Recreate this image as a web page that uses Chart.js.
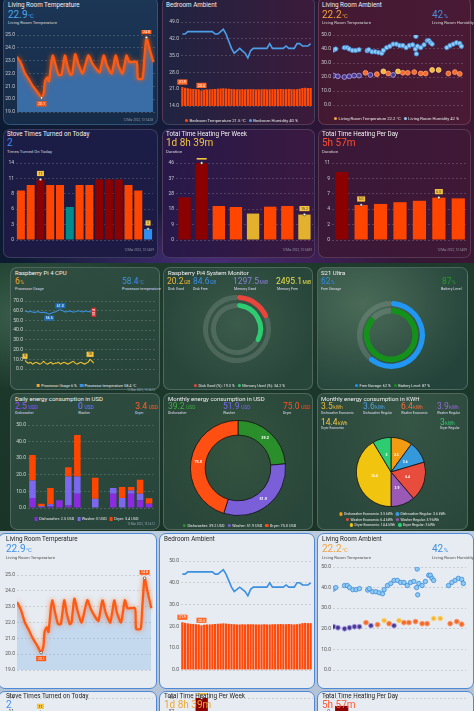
<!DOCTYPE html>
<html><head><meta charset="utf-8">
<script src="https://cdn.jsdelivr.net/npm/chart.js@4.4.1/dist/chart.umd.min.js"></script>
<style>
html,body{margin:0;padding:0}
body{width:474px;height:711px;overflow:hidden;position:relative;font-family:Roboto,"Noto Sans",sans-serif;background:#101828}
.sec,.card,.t,.lg,canvas{position:absolute}
.card{border-radius:7px;box-sizing:border-box}
.t{white-space:nowrap;line-height:1.2}
.t small{font-size:58%;margin-left:0.4px}
.lg{white-space:nowrap;transform:translateX(-50%);line-height:1.2}
.lg i{display:inline-block;width:3.4px;height:3.4px;border-radius:50%;margin:0 1.2px 0 3px;vertical-align:-0.2px}
.lg i.sq{border-radius:0.4px}
</style></head><body>
<script>
// ================= DATA =================
// Living Room Temperature (hour of day, °C)
const lrHours = [0,0.7,1.4,2.0,2.8,3.5,4.3,4.7,4.9,5.3,5.6,6.0,6.3,6.8,7.3,7.8,8.4,8.9,9.4,9.7,10.2,10.8,11.5,12.5,13.2,14.0,14.5,15.2,15.8,16.6,17.3,17.8,18.5,19.2,19.7,21.0,21.2,22.0,22.3,22.7,23.2,23.9];
const lrTemp  = [23.3,22.8,22.0,21.6,21.0,20.6,20.1,20.5,21.4,21.7,21.4,22.8,23.4,22.6,21.9,21.9,23.4,22.5,21.9,22.0,23.5,22.7,22.0,23.4,22.8,22.3,22.1,23.4,22.6,22.0,23.4,22.6,22.0,23.4,22.9,22.9,21.6,21.6,23.0,24.8,24.0,22.9];
// Bedroom Ambient, 30-minute slots from 00:00
const bedTemp = [21.9,21.6,21.4,21.2,21.1,21.0,20.9,20.5,20.8,20.9,20.9,21.0,21.1,21.2,21.3,21.4,21.3,21.2,21.1,21.0,20.9,20.9,21.0,20.9,21.0,21.0,21.0,20.9,20.9,20.9,21.0,20.9,20.9,21.0,21.0,21.0,21.1,21.0,21.0,21.1,21.0,20.9,21.0,21.2,21.5,21.6,21.5,21.5];
const bedHum  = [44,44,45,45,45,45,45,45,45,45,45,45,44,44,45,46,44,41,38,36,37,38,37,36,34,37,38,38,38,38,38,38,40,38,38,38,38,38,39,38,38,38,40,40,39,39,39,40];
// Living Room Ambient (scatter)
const lraHumHours = [0.1,0.5,2.1,2.6,3.0,3.6,4.2,4.8,6.3,6.6,7.2,7.8,8.4,9.0,9.3,9.9,10.5,11.1,11.7,12.3,12.9,13.5,14.1,14.7,15.2,15.3,15.4,15.6,16.2,16.8,17.4,17.7,18.0,18.3,21.0,21.6,22.2,22.8,23.4,23.7];
const lraHum      = [39.3,40,41,41,40,39,39,39.5,38.8,39.5,38,38,37.5,37,39,41,42,43.5,43.5,42.5,42.5,41,42.5,43,40,49,36.5,42,41,43,46,46,44.5,43.5,41,42.5,43.5,44.5,44,42];
const lraTempHours = [0.1,0.9,2.1,3.0,3.9,4.8,6.0,6.9,8.1,9.3,10.2,11.1,12.0,12.9,13.8,15.0,16.2,17.1,18.3,19.5,21.3,22.5,23.4];
const lraTemp      = [21,20.5,20,20.5,21,21,23,21.5,22,24,22.5,21.5,24,23,23,23.5,22.5,22.5,25,25,22.5,23.5,22.2];
// Stove times turned on per day
const stoveDays   = ['27 Feb','28 Feb','01 Mar','02 Mar','03 Mar','04 Mar','05 Mar','06 Mar','07 Mar','08 Mar','09 Mar','10 Mar','11 Mar','12 Mar'];
const stoveCounts = [9,10,11,10,10,6,10,10,11,11,11,10,9,2];
// Total time heating per week (hours)
const weekTicks = ['', '24 Jan', "Feb '22", '', '14 Feb', '21 Feb', '', ''];
const weekHours = [25.5,46,20.3,19.7,15.8,19.9,20.3,15.2];
// Total time heating per day (hours)
const dayTicks = ['', '05 Mar','06 Mar','07 Mar','08 Mar','09 Mar','10 Mar'];
const dayHours = [9.7,5.0,5.15,5.4,5.6,6.05,5.95];
// Raspberry Pi CPU, 20-minute samples from 00:00
const cpuTemp  = [59.5,59.2,58.8,59.3,58.6,58.2,58.7,59.1,58.4,58.0,58.5,57.9,57.4,56.5,57.3,58.1,58.6,59.4,60.5,61.0,60.2,59.3,58.8,59.2,59.8,59.1,58.6,59.0,59.5,59.9,59.2,58.8,59.3,59.7,59.1,58.7,59.8,58.4];
const cpuUsage = [9,7,6,7,5,6,7,6,5,6,8,6,5,6,7,5,6,6,7,5,6,7,6,5,6,7,8,6,5,6,7,6,5,6,7,10,8,6];
// System monitor / phone
const diskUsedPct = 19.3, memUsedPct = 34.2;
const freeStoragePct = 62, batteryPct = 87;
// Daily energy consumption in USD
const energyDays = stoveDays;
const dishUSD = [6,0.6,1,4.6,1.6,8.6,0,0,0,8.6,0,8.6,4.6,2.5];
const washUSD = [10.6,0.4,1.2,0,17.4,10.4,0,5.6,0,3.4,6,2,4,0];
const dryUSD  = [15.4,1.6,9.8,0,5.6,25,0,12.6,0,0,6.6,2,8.4,3.4];
// Monthly energy
const usdLabels = ['Dishwasher','Washer','Dryer'];
const monthlyUSD = [39.2,51.9,75.0];
const kwhLabels = ['Dishwasher Economic','Dishwasher Regular','Washer Economic','Washer Regular','Dryer Economic','Dryer Regular'];
const kwhValues = [3.5,3.6,6.4,3.9,14.4,3];

// ================= HELPERS =================
const halfHourLabels = []; for (let i=0;i<48;i++) halfHourLabels.push(String(Math.floor(i/2)).padStart(2,'0')+':'+(i%2?'30':'00'));
const twentyMinLabels = []; for (let i=0;i<72;i++) twentyMinLabels.push(String(Math.floor(i/3)).padStart(2,'0')+':'+['00','20','40'][i%3]);
const hh = v => String(v).padStart(2,'0')+':00';

const marksPlugin = {
  id:'marks',
  afterDatasetsDraw(chart){
    const ctx = chart.ctx;
    chart.data.datasets.forEach((ds,di)=>{
      (ds.marks||[]).forEach(it=>{
        const vals = ds.data.map(d=> d!==null && typeof d==='object' ? d.y : d);
        const lo = it.from||0; let idx=-1;
        vals.forEach((v,i)=>{ if(i<lo||v==null) return; if(idx<0){idx=i;return;}
          if(it.kind==='max' && v>vals[idx]) idx=i;
          if(it.kind==='min' && v<vals[idx]) idx=i; });
        if(it.kind==='last') idx=vals.length-1;
        if(it.kind==='first') idx=0;
        const el = chart.getDatasetMeta(di).data[idx]; if(!el) return;
        const txt = it.fmt ? it.fmt(vals[idx]) : String(vals[idx]);
        const fs = it.fs||3.6;
        ctx.save();
        ctx.font = fs+'px Roboto';
        const w = ctx.measureText(txt).width+3, h = fs+1.6;
        const x = el.x+(it.dx||0), y = el.y-(it.dy===undefined?6:it.dy);
        ctx.fillStyle = it.bg; ctx.textAlign='center'; ctx.textBaseline='middle';
        if(it.rot){ ctx.fillRect(x-h/2,y-w/2,h,w); ctx.translate(x,y); ctx.rotate(-Math.PI/2); ctx.fillStyle=it.fg; ctx.fillText(txt,0,0.3); }
        else { ctx.fillRect(x-w/2,y-h/2,w,h); ctx.fillStyle=it.fg; ctx.fillText(txt,x,y+0.3); }
        ctx.restore();
        if(it.dot){ ctx.save(); ctx.beginPath(); ctx.arc(el.x,el.y,1.3,0,Math.PI*2); ctx.fillStyle='#fff'; ctx.fill(); ctx.lineWidth=0.6; ctx.strokeStyle='#333'; ctx.stroke(); ctx.restore(); }
      });
    });
  }
};
const glowPlugin = {
  id:'glow',
  beforeDatasetDraw(chart,args){ const ds=chart.data.datasets[args.index]; if(ds.glow){ chart.ctx.save(); chart.ctx.shadowColor=ds.glow; chart.ctx.shadowBlur=ds.glowBlur||4; } },
  afterDatasetDraw(chart,args){ const ds=chart.data.datasets[args.index]; if(ds.glow) chart.ctx.restore(); }
};
const arcLabels = {
  id:'arcLabels',
  afterDatasetsDraw(chart){
    chart.data.datasets.forEach((ds,di)=>{
      if(!ds.arcLabels) return;
      const ctx=chart.ctx, meta=chart.getDatasetMeta(di);
      ctx.save(); ctx.font='bold '+ds.arcLabels.size+'px Roboto'; ctx.fillStyle=ds.arcLabels.color; ctx.textAlign='center'; ctx.textBaseline='middle';
      meta.data.forEach((a,i)=>{ const p=a.tooltipPosition(); ctx.fillText(ds.arcLabels.fmt(ds.data[i]),p.x,p.y); });
      ctx.restore();
    });
  }
};
Chart.register(marksPlugin, glowPlugin, arcLabels);
Chart.defaults.font.family = 'Roboto, "Noto Sans", sans-serif';
Chart.defaults.font.size = 5;
Chart.defaults.animation = false;
Chart.defaults.responsive = false;
Chart.defaults.maintainAspectRatio = false;
Chart.defaults.plugins.legend.display = false;
Chart.defaults.plugins.tooltip.enabled = false;

function el(cls, css, html){ const d=document.createElement('div'); d.className=cls; d.style.cssText=css; if(html!==undefined) d.innerHTML=html; document.body.appendChild(d); return d; }
function S(y,h,bg){ return el('sec','left:0;top:'+y+'px;width:474px;height:'+h+'px;background:'+bg); }
function C(x,y,w,h,bg,bd){ return el('card','left:'+x+'px;top:'+y+'px;width:'+w+'px;height:'+h+'px;background:'+bg+';border:'+bd); }
function T(x,yc,html,size,color,extra){ return el('t','left:'+x+'px;top:'+(yc-size*0.6)+'px;font-size:'+size+'px;color:'+color+';'+(extra||''),html); }
function LG(cx,yc,items,size,color){ return el('lg','left:'+cx+'px;top:'+(yc-size*0.6)+'px;font-size:'+size+'px;color:'+color, items.map(it=>'<i class="'+(it.sq?'sq':'')+'" style="background:'+it.c+'"></i>'+it.t).join('')); }
function mkCanvas(L,Tp,W,H){ const c=document.createElement('canvas'); c.width=W; c.height=H; c.style.left=L+'px'; c.style.top=Tp+'px'; c.style.width=W+'px'; c.style.height=H+'px'; document.body.appendChild(c); return c; }
function axesChart(area,cfg,o){
  o=o||{}; const yw=o.yw||13, xh=o.xh||9, pt=4, pr=3;
  const L=Math.round(area[0]-yw-1), Tp=Math.round(area[1]-pt);
  const W=Math.round(area[2]-L+pr), H=Math.round(area[3]-Tp+xh);
  const c=mkCanvas(L,Tp,W,H);
  cfg.options.devicePixelRatio=1;
  cfg.options.layout={padding:{left:1,top:pt,right:pr,bottom:0}};
  cfg.options.scales.x.afterFit=s=>{s.height=xh;};
  cfg.options.scales.y.afterFit=s=>{s.width=yw;};
  return new Chart(c,cfg);
}
function ringChart(cx,cy,r,cfg){ const c=mkCanvas(cx-r,cy-r,2*r,2*r); cfg.options=cfg.options||{}; cfg.options.devicePixelRatio=1; cfg.options.layout={padding:0}; return new Chart(c,cfg); }
function xLin(th,max){ return {type:'linear',min:0,max:max,grid:{display:false},border:{display:false},ticks:{stepSize:3,color:th.tick,font:{size:5},padding:2,maxRotation:0,callback:v=> v<24 && v%3===0 ? hh(v):''}}; }
function xCat(th,cb,offset){ return {offset:offset!==false,grid:{display:false},border:{display:false},ticks:{color:th.tick,font:{size:5},padding:2,autoSkip:false,maxRotation:0,callback:cb}}; }
function yLin(th,min,max,step,cb){ return {min:min,max:max,grid:{color:th.grid,drawTicks:false},border:{display:false,dash:[2,2]},ticks:{stepSize:step,color:th.tick,font:{size:5},padding:2,callback:cb}}; }
const f1 = v=>Number(v).toFixed(1);

const TH = {
  dark:{tick:'#c9c9d2',grid:'rgba(255,255,255,0.17)',title:'#f2f2f2',sub:'#d6d6d6',line:'#ff5a14',area:'#3a6ca6',glow:'rgba(255,90,0,1)',hum:'#4b9fe8',bar:'#ff4a0a',lg:'#e6e6e6',ts:'#9a9aa8'},
  light:{tick:'#555',grid:'rgba(0,0,0,0.13)',title:'#222',sub:'#555',line:'#ff5a14',area:'rgba(120,170,230,0.30)',glow:'rgba(255,90,0,0.7)',hum:'#3d8fe0',bar:'#ff4a0a',lg:'#333',ts:'#888'}
};

// ---------- chart builders ----------
function tempChart(th,area){
  return axesChart(area,{type:'line',data:{datasets:[{data:lrHours.map((h,i)=>({x:h,y:lrTemp[i]})),borderColor:th.line,borderWidth:2.3,fill:'start',backgroundColor:th.area,pointRadius:0,tension:0.2,glow:th.glow,glowBlur:5,
    marks:[{kind:'min',bg:'#ff5a14',fg:'#fff',dot:true,fmt:f1,dy:-6},{kind:'max',bg:'#ff5a14',fg:'#fff',dot:true,fmt:f1}]}]},
    options:{scales:{x:xLin(th,24.2),y:yLin(th,19,25,1,f1)}}});
}
function bedChart(th,area,yr){
  return axesChart(area,{type:'bar',data:{labels:halfHourLabels,datasets:[
    {type:'line',data:bedHum,borderColor:th.hum,borderWidth:1.6,pointRadius:0,tension:0,order:0},
    {type:'bar',data:bedTemp,backgroundColor:th.bar,borderColor:'#ff7a3a',borderWidth:0,barPercentage:0.82,categoryPercentage:1,order:1,
     marks:[{kind:'max',bg:'#ff6a2a',fg:'#fff',fmt:f1,dy:5},{kind:'min',bg:'#ff6a2a',fg:'#fff',fmt:f1,dy:5}]}]},
    options:{scales:{x:xCat(th,(v,i)=> i%6===0 ? halfHourLabels[i] : ''),y:yLin(th,yr[0],yr[1],yr[2],f1)}}});
}
function tempColor(v){ return v<21.8 ? '#4a3a8e' : v>=24 ? '#f4b63c' : '#f26a2e'; }
function tempBorder(v){ return v<21.8 ? '#a89be8' : v>=24 ? '#ffd880' : '#ff9a6a'; }
function lraChart(th,area){
  return axesChart(area,{type:'scatter',data:{datasets:[
    {data:lraHumHours.map((h,i)=>({x:h,y:lraHum[i]})),backgroundColor:'#8ecbf5',borderColor:'#3f8ad8',borderWidth:0.8,pointRadius:2.2},
    {data:lraTempHours.map((h,i)=>({x:h,y:lraTemp[i]})),backgroundColor:lraTemp.map(tempColor),borderColor:lraTemp.map(tempBorder),borderWidth:0.9,pointRadius:2.4}]},
    options:{scales:{x:xLin(th,24.2),y:yLin(th,0,50,10,f1)}}});
}
function stoveChart(th,area){
  const mx=Math.max(...stoveCounts), mn=Math.min(...stoveCounts.slice(0,-1));
  const cols=stoveCounts.map((v,i)=> i===stoveCounts.length-1 ? '#2f8ff0' : v===mx ? '#8b0000' : v===mn ? '#008b8b' : '#ff4500');
  return axesChart(area,{type:'bar',data:{labels:stoveDays,datasets:[{data:stoveCounts,backgroundColor:cols,barPercentage:0.82,categoryPercentage:1,
    marks:[{kind:'max',bg:'#f5c542',fg:'#333',dot:true,dy:6},{kind:'last',bg:'#f5c542',fg:'#333',dot:true,dy:6}]}]},
    options:{scales:{x:xCat(th,(v,i)=> i%2===1 ? stoveDays[i] : ''),y:yLin(th,0,14,2.8,v=>Math.round(v))}}});
}
function weekChart(th,area){
  const cols=weekHours.map(v=> v>=25 ? '#8b0000' : v<17 ? '#e2b22e' : '#ff4500');
  return axesChart(area,{type:'bar',data:{labels:weekTicks,datasets:[{data:weekHours,backgroundColor:cols,barPercentage:0.72,categoryPercentage:1,
    marks:[{kind:'max',bg:'#f5c542',fg:'#333',dot:true,fmt:f1,dy:6},{kind:'last',bg:'#f5c542',fg:'#333',dot:true,fmt:f1,dy:6}]}]},
    options:{scales:{x:xCat(th,(v,i)=>weekTicks[i]),y:yLin(th,0,46,9.2,v=>Math.round(v))}}});
}
function dayChart(th,area){
  const cols=dayHours.map(v=> v>8 ? '#8b0000' : '#ff4500');
  return axesChart(area,{type:'bar',data:{labels:dayTicks,datasets:[{data:dayHours,backgroundColor:cols,barPercentage:0.68,categoryPercentage:1,
    marks:[{kind:'min',bg:'#f5c542',fg:'#333',dot:true,fmt:f1,dy:6},{kind:'max',from:1,bg:'#f5c542',fg:'#333',dot:true,fmt:f1,dy:6}]}]},
    options:{scales:{x:xCat(th,(v,i)=>dayTicks[i]),y:yLin(th,0,11,2.2,v=>Math.round(v))}}});
}

// ================= LAYOUT =================
S(0,263,'radial-gradient(ellipse 60% 30% at 45% 100%, rgba(110,60,170,0.55), rgba(0,0,0,0) 70%), linear-gradient(90deg,#0c1b31 0%,#171a3a 38%,#2c1637 68%,#3b1733 100%)');
S(263,268,'radial-gradient(ellipse 40% 40% at 8% 20%, rgba(90,140,110,0.5), rgba(0,0,0,0) 70%), linear-gradient(180deg,#1d3a2d,#1a3428)');
S(531,180,'linear-gradient(180deg,#bccbdb,#b3c3d5)');

const DB='1px solid rgba(255,255,255,0.14)';
C(3,-3,155,128,'linear-gradient(180deg,#1c3656,#162b47)','1px solid rgba(120,170,230,0.25)');
C(162,-3,153,128,'linear-gradient(90deg,#1f2441,#3c1a3b)',DB);
C(318,-3,153,128,'linear-gradient(90deg,#431932,#4a1a35)',DB);
C(3,129,155,129,'linear-gradient(180deg,#1b1d46,#1d1a44)',DB);
C(162,129,153,129,'linear-gradient(90deg,#27194a,#3a1940)',DB);
C(318,129,153,129,'linear-gradient(90deg,#3a1838,#3f1836)',DB);

const GB='1px solid rgba(255,255,255,0.18)';
C(10,267,150,123,'linear-gradient(160deg,#2f4e40,#27433a)',GB);
C(163,267,150,123,'radial-gradient(ellipse at 50% 45%,#3b5b4b,#29463a 75%)',GB);
C(317,267,151,123,'radial-gradient(ellipse at 30% 30%,#4b6b58,#24433a 80%)',GB);
C(10,393,150,137,'linear-gradient(160deg,#2e4d3f,#27443a)',GB);
C(163,393,150,137,'radial-gradient(ellipse at 50% 40%,#34543f,#29463a 80%)',GB);
C(317,393,151,137,'radial-gradient(ellipse at 60% 20%,#355545,#2a473b 80%)',GB);

const LB='1px solid #4d89d6';
C(-2,533,159,156,'#e6ecf2',LB);
C(159,533,156,156,'#e6ecf2',LB);
C(317,533,157,156,'#e6ecf2',LB);
C(-2,691,159,40,'#e6ecf2',LB);
C(159,691,156,40,'#e6ecf2',LB);
C(317,691,157,40,'#e6ecf2',LB);

// ---------- TOP (dark) ----------
const D=TH.dark;
T(8,6,'Living Room Temperature',6.3,D.title);
T(8,14.5,'22.9<small>°C</small>',10,'#4aa8f0');
T(8,23,'Living Room Temperature',4.3,D.sub);
tempChart(D,[17,34.3,155,111.7]);
T(153,121,'12 Mar 2022, 13:14:28',3,D.ts,'transform:translateX(-100%)');

T(166,6,'Bedroom Ambient',6.3,D.title);
bedChart(D,[181,20.7,312,106],[14,49,7]);
LG(240,120.5,[{c:D.bar,t:'Bedroom Temperature '+bedTemp[bedTemp.length-1]+' °C'},{c:D.hum,t:'Bedroom Humidity '+bedHum[bedHum.length-1]+' %'}],4.2,D.lg);

T(322,6,'Living Room Ambient',6.3,D.title);
T(322,14.5,lraTemp[lraTemp.length-1]+'<small>°C</small>',10,'#f5a43a');
T(432,14.5,lraHum[lraHum.length-1]+'<small>%</small>',10,'#4a8fe0');
T(322,23,'Living Room Temperature',4.3,D.sub);
T(432,23,'Living Room Humidity',4.3,D.sub);
lraChart(D,[333,34.3,466,105.3]);
LG(395,118.5,[{c:'#f5a43a',t:'Living Room Temperature '+lraTemp[lraTemp.length-1]+' °C'},{c:'#8ecbf5',t:'Living Room Humidity '+lraHum[lraHum.length-1]+' %'}],4.2,D.lg);

T(7,134.5,'Stove Times Turned on Today',6.3,D.title);
T(7,143,String(stoveCounts[stoveCounts.length-1]),10,'#3d8ef5');
T(7,151.5,'Times Turned On Today',4.3,D.sub);
stoveChart(D,[16,162.3,155,240]);
T(154,251,'12 Mar 2022, 13:14:09',3,D.ts,'transform:translateX(-100%)');

T(166,134.5,'Total Time Heating Per Week',6.3,D.title);
T(166,143,'1d 8h 39m',10,'#f2c446');
T(166,151.5,'Duration',4.3,D.sub);
weekChart(D,[176,162.3,313,240]);
T(312,251,'12 Mar 2022, 13:14:09',3,D.ts,'transform:translateX(-100%)');

T(322,134.5,'Total Time Heating Per Day',6.3,D.title);
T(322,143,'5h 57m',10,'#ff4d2e');
T(322,151.5,'Duration',4.3,D.sub);
dayChart(D,[332,162.3,468,240]);
T(467,251,'12 Mar 2022, 13:14:09',3,D.ts,'transform:translateX(-100%)');

// ---------- MIDDLE (green) ----------
const G={tick:'#cfd8d2',grid:'rgba(255,255,255,0.17)'};
T(15,273,'Raspberry Pi 4 CPU',6,'#f2f2f2');
T(15,281.5,cpuUsage[cpuUsage.length-1]+'<small>%</small>',8.5,'#f5a623');
T(15,289,'Processor Usage',3.8,'#dde');
T(122,281.5,cpuTemp[cpuTemp.length-1]+'<small>°C</small>',8.5,'#3b8fdc');
T(122,289,'Processor temperature',3.8,'#dde');
axesChart([25,300.3,156.5,369.3],{type:'line',data:{labels:twentyMinLabels,datasets:[
  {data:cpuTemp,borderColor:'#3b8fdc',borderWidth:1.1,pointRadius:0,tension:0.1,
   marks:[{kind:'min',bg:'#1f6fb8',fg:'#fff',fmt:f1,dy:-4},{kind:'max',bg:'#1f6fb8',fg:'#fff',fmt:f1,dy:4},{kind:'last',bg:'#e02828',fg:'#fff',fmt:f1,dy:0,rot:true,fs:3.2}]},
  {data:cpuUsage,borderColor:'#f2c230',borderWidth:1.1,pointRadius:0,tension:0.1,
   marks:[{kind:'first',bg:'#f5c542',fg:'#333',dy:4},{kind:'max',bg:'#f5c542',fg:'#333',dy:5}]}]},
  options:{scales:{x:xCat(G,(v,i)=> i%9===0 ? twentyMinLabels[i] : '',false),y:yLin(G,0,70,10,f1)}}});
LG(85,386,[{c:'#f5a623',sq:1,t:'Processor Usage '+cpuUsage[cpuUsage.length-1]+' %'},{c:'#3b8fdc',sq:1,t:'Processor temperature '+cpuTemp[cpuTemp.length-1]+' °C'}],3.8,'#e8e8e8');
T(155,391,'12 Mar 2022, 13:14:12',2.8,'#9ab','transform:translateX(-100%)');

T(168,273,'Raspberry Pi4 System Monitor',6,'#f2f2f2');
T(167,281.5,'20.2<small>GB</small>',8.5,'#f2b63a');
T(193,281.5,'84.6<small>GB</small>',8.5,'#3d8fe0');
T(233,281.5,'1297.5<small>MiB</small>',8.5,'#8a80d8');
T(276,281.5,'2495.1<small>MiB</small>',8.5,'#e8e04a');
T(168,289,'Disk Used',3.6,'#dde');
T(193,289,'Disk Free',3.6,'#dde');
T(234,289,'Memory Used',3.6,'#dde');
T(277,289,'Memory Free',3.6,'#dde');
const TRK='rgba(255,255,255,0.13)';
ringChart(237,329,34,{type:'doughnut',data:{datasets:[
  {data:[diskUsedPct,100-diskUsedPct],backgroundColor:['#e8453c',TRK],borderWidth:0,weight:5,borderRadius:[2.5,0]},
  {data:[100],backgroundColor:['rgba(0,0,0,0)'],borderWidth:0,weight:3},
  {data:[memUsedPct,100-memUsedPct],backgroundColor:['#2ecc71',TRK],borderWidth:0,weight:5,borderRadius:[2.5,0]}]},
  options:{cutout:'62%'}});
LG(238,386,[{c:'#e8453c',t:'Disk Used (%): '+diskUsedPct+' %'},{c:'#2ecc71',t:'Memory Used (%): '+memUsedPct+' %'}],3.8,'#e8e8e8');

T(321,273,'S21 Ultra',6,'#f2f2f2');
T(321,281.5,freeStoragePct+'<small>%</small>',8.5,'#2d8fe8');
T(321,289,'Free Storage',3.6,'#dde');
T(442,281.5,batteryPct+'<small>%</small>',8.5,'#1fa01f');
T(441,289,'Battery Level',3.6,'#dde');
ringChart(391,335,34,{type:'doughnut',data:{datasets:[
  {data:[freeStoragePct,100-freeStoragePct],backgroundColor:['#2196f3',TRK],borderWidth:0,weight:5,borderRadius:[2.5,0]},
  {data:[100],backgroundColor:['rgba(0,0,0,0)'],borderWidth:0,weight:1.5},
  {data:[batteryPct,100-batteryPct],backgroundColor:['#14911a',TRK],borderWidth:0,weight:5.5,borderRadius:[2.5,0]}]},
  options:{cutout:'63%'}});
LG(391,386,[{c:'#2196f3',t:'Free Storage: '+freeStoragePct+' %'},{c:'#14911a',t:'Battery Level: '+batteryPct+' %'}],3.8,'#e8e8e8');

T(15,398.5,'Daily energy consumption in USD',6,'#f2f2f2');
const last=a=>a[a.length-1];
T(15,406.5,last(dishUSD)+'<small> USD</small>',8.5,'#9b4dff');
T(78,406.5,last(washUSD)+'<small> USD</small>',8.5,'#7c7cf0');
T(135,406.5,last(dryUSD)+'<small> USD</small>',8.5,'#ff5a2a');
T(15,413.5,'Dishwasher',3.6,'#dde');
T(78,413.5,'Washer',3.6,'#dde');
T(135,413.5,'Dryer',3.6,'#dde');
axesChart([28,424.3,156,507.7],{type:'bar',data:{labels:energyDays,datasets:[
  {data:dishUSD,backgroundColor:'#8a2be2',barPercentage:0.73,categoryPercentage:1},
  {data:washUSD,backgroundColor:'#7b68ee',barPercentage:0.73,categoryPercentage:1},
  {data:dryUSD,backgroundColor:'#ff4500',barPercentage:0.73,categoryPercentage:1}]},
  options:{scales:{x:Object.assign(xCat(G,(v,i)=> i%2===1 ? energyDays[i] : ''),{stacked:true}),y:Object.assign(yLin(G,0,50,10,f1),{stacked:true})}}},{yw:13});
LG(85,519.5,[{c:'#8a2be2',sq:1,t:'Dishwasher: '+last(dishUSD)+' USD'},{c:'#7b68ee',sq:1,t:'Washer: '+last(washUSD)+' USD'},{c:'#ff4500',sq:1,t:'Dryer: '+last(dryUSD)+' USD'}],3.8,'#e8e8e8');
T(155,525,'12 Mar 2022, 13:14:12',2.8,'#9ab','transform:translateX(-100%)');

T(168,398.5,'Monthly energy consumption in USD',6,'#f2f2f2');
const usdCols=['#2a8f2a','#7b5fd9','#ff4f12'];
T(168,406.5,monthlyUSD[0].toFixed(1)+'<small> USD</small>',8.5,'#3cb043');
T(223,406.5,monthlyUSD[1].toFixed(1)+'<small> USD</small>',8.5,'#7b68ee');
T(283,406.5,monthlyUSD[2].toFixed(1)+'<small> USD</small>',8.5,'#ff5020');
T(168,413.5,usdLabels[0],3.6,'#dde');
T(223,413.5,usdLabels[1],3.6,'#dde');
T(283,413.5,usdLabels[2],3.6,'#dde');
ringChart(238,468,48,{type:'doughnut',data:{labels:usdLabels,datasets:[{data:monthlyUSD,backgroundColor:usdCols,borderColor:'#111',borderWidth:0.8,
  arcLabels:{size:3.8,color:'#fff',fmt:v=>v.toFixed(1)}}]},options:{cutout:'69%'}});
LG(238,526,usdLabels.map((l,i)=>({c:usdCols[i],t:l+': '+monthlyUSD[i].toFixed(1)+' USD'})),3.8,'#e8e8e8');

T(321,398.5,'Monthly energy consumption in KWH',6,'#f2f2f2');
const kwhCols=['#f39c12','#3498db','#e74c3c','#9b59b6','#f1c40f','#2ecc71'];
const kwhText=['#f5b935','#4aa0e8','#ff6a3a','#9a6ad6','#f2c84a','#2ecc71'];
[[321,406.5,0],[363,406.5,1],[401,406.5,2],[437,406.5,3],[321,422,4],[440,422,5]].forEach(p=>{
  T(p[0],p[1],kwhValues[p[2]]+'<small>kWh</small>',8.5,kwhText[p[2]]);
  T(p[0],p[1]+7,kwhLabels[p[2]],3.3,'#dde');
});
ringChart(391,472,35,{type:'pie',data:{labels:kwhLabels,datasets:[{data:kwhValues,backgroundColor:kwhCols,borderColor:'#111',borderWidth:0.8,
  arcLabels:{size:3.4,color:'#fff',fmt:v=>String(v)}}]}});
LG(391,514.5,[0,1].map(i=>({c:kwhCols[i],t:kwhLabels[i]+': '+kwhValues[i]+' kWh'})),3.5,'#e8e8e8');
LG(391,520,[2,3].map(i=>({c:kwhCols[i],t:kwhLabels[i]+': '+kwhValues[i]+' kWh'})),3.5,'#e8e8e8');
LG(391,525.5,[4,5].map(i=>({c:kwhCols[i],t:kwhLabels[i]+': '+kwhValues[i]+' kWh'})),3.5,'#e8e8e8');

// ---------- BOTTOM (light) ----------
const Lt=TH.light;
tempChart(Lt,[17,574,153,670]);
T(6,540,'Living Room Temperature',6.3,Lt.title);
T(6,549,'22.9<small>°C</small>',10,'#3d8fe6');
T(6,557.5,'Living Room Temperature',4.3,Lt.sub);

bedChart(Lt,[181,560,312,670],[0,50,10]);
T(164,540,'Bedroom Ambient',6.3,Lt.title);

lraChart(Lt,[333,566,468,670]);
T(322,540,'Living Room Ambient',6.3,Lt.title);
T(322,549,lraTemp[lraTemp.length-1]+'<small>°C</small>',10,'#f5a43a');
T(432,549,lraHum[lraHum.length-1]+'<small>%</small>',10,'#3d8fe0');
T(322,557.5,'Living Room Temperature',4.3,Lt.sub);
T(432,557.5,'Living Room Humidity',4.3,Lt.sub);

// second light row, only its top is in the picture
stoveChart(Lt,[16,697,155,765]);
weekChart(Lt,[176,697,313,765]);
dayChart(Lt,[332,697,468,765]);
T(6,697,'Stove Times Turned on Today',6.3,Lt.title);
T(6,705,String(stoveCounts[stoveCounts.length-1]),10,'#3d8ef5');
T(164,697,'Total Time Heating Per Week',6.3,Lt.title);
T(164,705,'1d 8h 39m',10,'#f0a830');
T(322,697,'Total Time Heating Per Day',6.3,Lt.title);
T(322,705,'5h 57m',10,'#ff5a36');
</script>
</body></html>
